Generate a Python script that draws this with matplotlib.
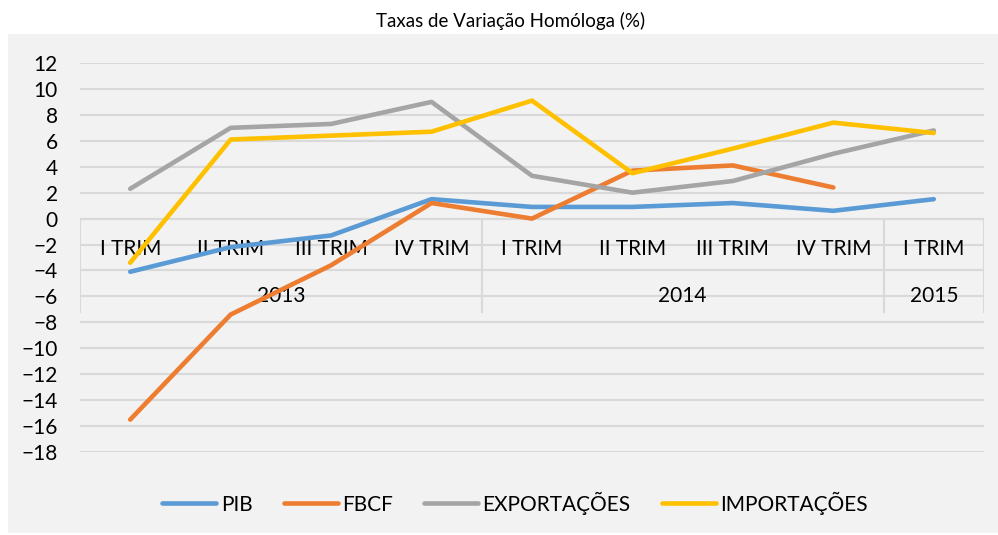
import matplotlib
matplotlib.use('Agg')
import matplotlib.pyplot as plt
import matplotlib.transforms as mtransforms
from matplotlib.patches import Rectangle
import numpy as np

# Data
quarters = ['I TRIM', 'II TRIM', 'III TRIM', 'IV TRIM',
            'I TRIM', 'II TRIM', 'III TRIM', 'IV TRIM',
            'I TRIM']
years = ['2013', '2014', '2015']
year_sizes = [4, 4, 1]

pib = [-4.1, -2.2, -1.3, 1.5, 0.9, 0.9, 1.2, 0.6, 1.5]
fbcf = [-15.5, -7.4, -3.6, 1.2, 0.0, 3.7, 4.1, 2.4, np.nan]
exportacoes = [2.3, 7.0, 7.3, 9.0, 3.3, 2.0, 2.9, 5.0, 6.8]
importacoes = [-3.4, 6.1, 6.4, 6.7, 9.1, 3.5, 5.4, 7.4, 6.6]

series = [('PIB', pib, '#5B9BD5'),
          ('FBCF', fbcf, '#ED7D31'),
          ('EXPORTAÇÕES', exportacoes, '#A5A5A5'),
          ('IMPORTAÇÕES', importacoes, '#FFC000')]

plt.rcParams['font.family'] = ['Lato', 'DejaVu Sans']

W, H = 998, 535
fig = plt.figure(figsize=(W / 100, H / 100), dpi=100)
fig.patch.set_facecolor('white')

# chart area background
fig.patches.append(Rectangle((8 / W, 1 - 533 / H), (998 - 8) / W, (533 - 34) / H,
                             transform=fig.transFigure, facecolor='#F2F2F2',
                             edgecolor='none', zorder=-10))

ax = fig.add_axes([80 / W, 1 - 452 / H, (984 - 80) / W, (452 - 63) / H])
ax.set_facecolor('none')

x = np.arange(len(quarters))
ax.set_xlim(-0.5, len(quarters) - 0.5)
ax.set_ylim(-18, 12)
ax.set_yticks(np.arange(-18, 13, 2))
ax.yaxis.grid(True, color='#D9D9D9', linewidth=1.5)
ax.set_axisbelow(True)
for s in ax.spines.values():
    s.set_visible(False)
ax.tick_params(axis='y', length=0, pad=16, labelsize=15, colors='black')
ax.tick_params(axis='x', length=0, labelbottom=False)

# category axis at zero with group separators
grid_c = '#D9D9D9'
ax.axhline(0, color=grid_c, linewidth=1.5, zorder=1)
bounds = np.concatenate([[0], np.cumsum(year_sizes)]) - 0.5
sep_bottom = -7.2
for b in bounds:
    ax.plot([b, b], [0, sep_bottom], color=grid_c, linewidth=1.5, zorder=1)

lab_tr = mtransforms.offset_copy(ax.transData, fig=fig, y=-30, units='dots')
for i, q in enumerate(quarters):
    ax.text(x[i], 0, q, transform=lab_tr, ha='center', va='center', fontsize=15, zorder=2)
year_tr = mtransforms.offset_copy(ax.transData, fig=fig, y=-77, units='dots')
for k, yr in enumerate(years):
    ax.text((bounds[k] + bounds[k + 1]) / 2, 0, yr, transform=year_tr,
            ha='center', va='center', fontsize=15, zorder=2)

lines = []
for name, vals, col in series:
    ln, = ax.plot(x, vals, color=col, linewidth=3.3, solid_capstyle='round',
                  solid_joinstyle='round', label=name, zorder=3)
    lines.append(ln)

fig.legend(handles=lines, loc='center', bbox_to_anchor=(515 / W, 1 - 503 / H),
           ncol=4, frameon=False, fontsize=15, handlelength=2.6,
           handletextpad=0.2, columnspacing=1.5)

fig.text(511 / W, 1 - 21 / H, 'Taxas de Variação Homóloga (%)',
         ha='center', va='center', fontsize=13.5)

fig.savefig('out.png', dpi=100)
